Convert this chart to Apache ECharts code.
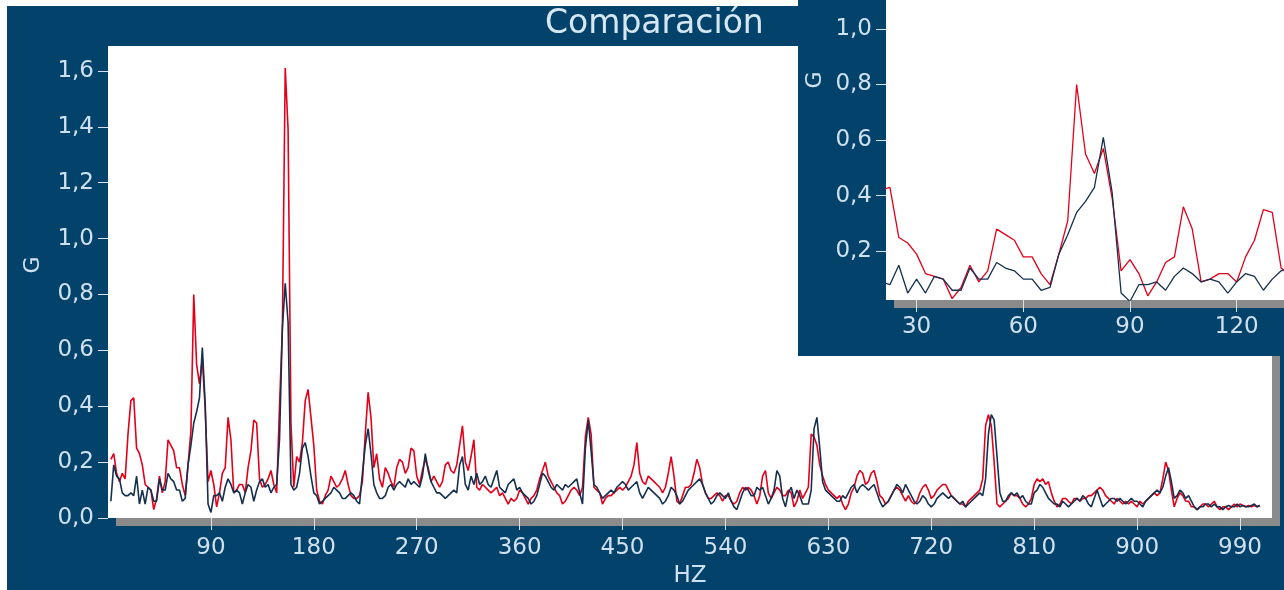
<!DOCTYPE html>
<html><head><meta charset="utf-8">
<script src="https://cdn.jsdelivr.net/npm/echarts@6/dist/echarts.min.js"></script>
<style>html,body{margin:0;padding:0;background:#fff}#c{width:1284px;height:590px}</style>
</head><body><div id="c"></div>
<script>
const chartTitle = 'Comparación';
const xAxisName = 'HZ';
const yAxisName = 'G';
const binStartHz = 2.5;
const binStepHz = 2.5;

const redValues = [
  0.21,0.23,0.16,0.13,0.16,0.14,0.30,0.42,
  0.43,0.25,0.23,0.19,0.12,0.11,0.10,0.03,
  0.07,0.15,0.09,0.13,0.28,0.26,0.24,0.18,
  0.18,0.12,0.08,0.19,0.31,0.80,0.55,0.48,
  0.57,0.39,0.13,0.17,0.12,0.04,0.09,0.16,
  0.18,0.36,0.28,0.09,0.10,0.12,0.12,0.09,
  0.18,0.24,0.35,0.34,0.14,0.11,0.12,0.14,
  0.17,0.12,0.09,0.40,0.68,1.61,1.39,0.34,
  0.11,0.22,0.20,0.27,0.42,0.46,0.36,0.26,
  0.10,0.06,0.05,0.08,0.10,0.15,0.13,0.11,
  0.12,0.14,0.17,0.12,0.08,0.07,0.07,0.08,
  0.13,0.30,0.45,0.36,0.18,0.23,0.14,0.11,
  0.18,0.16,0.13,0.11,0.18,0.21,0.20,0.16,
  0.18,0.25,0.24,0.15,0.12,0.17,0.21,0.18,
  0.13,0.15,0.13,0.11,0.13,0.19,0.20,0.17,
  0.16,0.19,0.26,0.33,0.20,0.17,0.22,0.28,
  0.11,0.10,0.12,0.11,0.10,0.09,0.10,0.11,
  0.08,0.09,0.07,0.05,0.07,0.06,0.07,0.10,
  0.09,0.07,0.05,0.07,0.08,0.10,0.14,0.17,
  0.20,0.15,0.13,0.11,0.09,0.08,0.05,0.06,
  0.08,0.10,0.11,0.10,0.08,0.11,0.29,0.36,
  0.30,0.11,0.10,0.09,0.05,0.07,0.08,0.08,
  0.09,0.10,0.11,0.10,0.11,0.13,0.15,0.19,
  0.27,0.16,0.13,0.12,0.15,0.14,0.13,0.12,
  0.11,0.09,0.11,0.16,0.22,0.15,0.06,0.05,
  0.08,0.11,0.11,0.12,0.16,0.21,0.18,0.12,
  0.09,0.07,0.07,0.08,0.09,0.08,0.06,0.08,
  0.08,0.06,0.05,0.06,0.09,0.11,0.10,0.11,
  0.10,0.08,0.05,0.08,0.15,0.17,0.09,0.07,
  0.09,0.11,0.10,0.08,0.08,0.10,0.09,0.04,
  0.06,0.10,0.07,0.09,0.11,0.30,0.29,0.26,
  0.19,0.15,0.12,0.10,0.09,0.08,0.07,0.08,
  0.05,0.03,0.05,0.09,0.11,0.15,0.17,0.16,
  0.12,0.13,0.16,0.17,0.13,0.08,0.07,0.05,
  0.06,0.08,0.10,0.11,0.10,0.08,0.06,0.08,
  0.06,0.05,0.06,0.09,0.11,0.12,0.10,0.07,
  0.08,0.10,0.11,0.12,0.12,0.10,0.08,0.07,
  0.06,0.05,0.05,0.04,0.06,0.07,0.08,0.09,
  0.10,0.14,0.33,0.37,0.33,0.20,0.05,0.04,
  0.05,0.06,0.07,0.09,0.08,0.08,0.07,0.05,
  0.04,0.05,0.07,0.12,0.14,0.13,0.14,0.12,
  0.13,0.09,0.06,0.04,0.05,0.07,0.07,0.06,
  0.05,0.07,0.07,0.06,0.07,0.07,0.08,0.08,
  0.09,0.10,0.11,0.10,0.08,0.07,0.06,0.05,
  0.07,0.06,0.05,0.06,0.05,0.06,0.05,0.04,
  0.06,0.05,0.06,0.07,0.08,0.09,0.08,0.09,
  0.14,0.20,0.17,0.10,0.04,0.07,0.09,0.08,
  0.06,0.06,0.04,0.04,0.03,0.04,0.05,0.05,
  0.04,0.05,0.06,0.04,0.03,0.04,0.04,0.03,
  0.04,0.05,0.04,0.05,0.045,0.04,0.045,0.04,
  0.045,0.04,0.045
];

const navyValues = [
  0.06,0.19,0.15,0.14,0.09,0.08,0.08,0.09,
  0.08,0.15,0.05,0.10,0.05,0.11,0.10,0.06,
  0.06,0.14,0.10,0.10,0.16,0.14,0.13,0.10,
  0.10,0.06,0.07,0.19,0.26,0.34,0.38,0.43,
  0.61,0.41,0.05,0.02,0.08,0.08,0.09,0.06,
  0.11,0.14,0.12,0.09,0.10,0.09,0.05,0.09,
  0.12,0.11,0.06,0.10,0.13,0.14,0.11,0.12,
  0.09,0.11,0.12,0.28,0.68,0.84,0.70,0.12,
  0.10,0.11,0.16,0.25,0.27,0.22,0.15,0.09,
  0.08,0.05,0.06,0.07,0.08,0.09,0.11,0.10,
  0.09,0.07,0.07,0.08,0.09,0.08,0.06,0.05,
  0.16,0.26,0.32,0.23,0.12,0.09,0.07,0.07,
  0.08,0.11,0.12,0.10,0.12,0.13,0.12,0.11,
  0.14,0.12,0.13,0.12,0.11,0.15,0.23,0.17,
  0.13,0.11,0.09,0.09,0.08,0.07,0.08,0.09,
  0.10,0.09,0.19,0.22,0.12,0.10,0.15,0.12,
  0.16,0.12,0.13,0.15,0.12,0.11,0.14,0.17,
  0.11,0.10,0.09,0.12,0.13,0.14,0.10,0.11,
  0.09,0.08,0.07,0.05,0.06,0.08,0.12,0.16,
  0.15,0.13,0.11,0.10,0.12,0.11,0.10,0.12,
  0.11,0.12,0.13,0.14,0.09,0.05,0.25,0.35,
  0.24,0.12,0.11,0.09,0.07,0.08,0.09,0.10,
  0.09,0.11,0.12,0.13,0.12,0.10,0.11,0.12,
  0.13,0.09,0.07,0.09,0.11,0.10,0.09,0.08,
  0.07,0.05,0.06,0.08,0.11,0.10,0.08,0.05,
  0.06,0.08,0.10,0.11,0.12,0.13,0.14,0.12,
  0.09,0.07,0.05,0.06,0.08,0.09,0.08,0.07,
  0.09,0.06,0.04,0.03,0.06,0.09,0.11,0.10,
  0.08,0.08,0.11,0.10,0.11,0.08,0.05,0.07,
  0.10,0.17,0.15,0.07,0.04,0.09,0.11,0.07,
  0.10,0.08,0.05,0.05,0.05,0.10,0.32,0.36,
  0.25,0.13,0.10,0.09,0.08,0.07,0.06,0.06,
  0.08,0.07,0.09,0.11,0.12,0.09,0.11,0.12,
  0.11,0.10,0.11,0.12,0.09,0.06,0.04,0.05,
  0.06,0.08,0.10,0.12,0.11,0.09,0.12,0.10,
  0.08,0.06,0.05,0.06,0.08,0.07,0.05,0.04,
  0.05,0.07,0.08,0.09,0.08,0.07,0.08,0.07,
  0.06,0.05,0.06,0.04,0.05,0.06,0.07,0.08,
  0.09,0.08,0.14,0.30,0.37,0.35,0.22,0.09,
  0.06,0.06,0.08,0.09,0.08,0.09,0.07,0.08,
  0.06,0.05,0.05,0.09,0.10,0.12,0.11,0.09,
  0.07,0.06,0.05,0.05,0.04,0.06,0.05,0.04,
  0.05,0.06,0.07,0.06,0.08,0.07,0.05,0.04,
  0.07,0.10,0.07,0.04,0.05,0.06,0.07,0.07,
  0.06,0.07,0.06,0.05,0.06,0.07,0.06,0.06,
  0.05,0.04,0.06,0.07,0.08,0.09,0.10,0.09,
  0.11,0.15,0.18,0.13,0.07,0.08,0.10,0.09,
  0.07,0.08,0.06,0.04,0.03,0.04,0.04,0.05,
  0.05,0.04,0.05,0.04,0.04,0.03,0.04,0.045,
  0.04,0.04,0.05,0.04,0.045,0.04,0.04,0.045,
  0.05,0.04,0.045
];

const mainXTicks = [90,180,270,360,450,540,630,720,810,900,990];
const mainYTicks = [0,0.2,0.4,0.6,0.8,1.0,1.2,1.4,1.6];
const insetXTicks = [30,60,90,120];
const insetYTicks = [0.2,0.4,0.6,0.8,1.0];

const binHz = redValues.map((_, i) => binStartHz + i * binStepHz);
const redPairs = binHz.map((f, i) => [f, redValues[i]]);
const navyPairs = binHz.map((f, i) => [f, navyValues[i]]);

const DARK = '#03426b';
const LABEL = '#cfe1ee';
const TICK = '#d6e3ec';
const RED = '#e2001a';
const NAVY = '#15304f';
const FONT = 'DejaVu Sans, Verdana, sans-serif';
const fmt = v => Number(v).toFixed(1).replace('.', ',');

function xAxisCfg(gridIndex, min, max, ticks, margin, extra) {
  return Object.assign({
    type: 'value', gridIndex, min, max,
    axisLine: { show: false },
    axisTick: { show: true, inside: false, length: 12, customValues: ticks, lineStyle: { color: TICK, width: 1 } },
    axisLabel: { show: true, customValues: ticks, color: LABEL, fontSize: 23, fontFamily: FONT, margin: margin, formatter: v => String(Math.round(v)) },
    splitLine: { show: false }
  }, extra || {});
}
function yAxisCfg(gridIndex, min, max, ticks, extra) {
  return Object.assign({
    type: 'value', gridIndex, min, max,
    axisLine: { show: false },
    axisTick: { show: true, length: 10, customValues: ticks, lineStyle: { color: TICK, width: 1 } },
    axisLabel: { show: true, customValues: ticks, color: LABEL, fontSize: 23, fontFamily: FONT, margin: 14, formatter: fmt },
    splitLine: { show: false }
  }, extra || {});
}

const chart = echarts.init(document.getElementById('c'), null, { renderer: 'canvas' });
chart.setOption({
  animation: false,
  backgroundColor: DARK,
  title: {
    text: chartTitle, left: 540, top: 3,
    textStyle: { color: '#d6e7f1', fontSize: 33, fontWeight: 'normal', fontFamily: FONT }
  },
  graphic: { elements: [
    { type: 'rect', silent: true, z: 100, shape: { x: 0, y: 0, width: 798, height: 6 }, style: { fill: '#ffffff' } },
    { type: 'rect', silent: true, z: 100, shape: { x: 0, y: 0, width: 7, height: 590 }, style: { fill: '#ffffff' } },
    { type: 'rect', silent: true, zlevel: 1, z: 0, shape: { x: 798, y: 0, width: 486, height: 356 }, style: { fill: DARK } }
  ] },
  grid: [
    { left: 108, top: 46, width: 1164, height: 472, show: true, backgroundColor: '#ffffff', borderWidth: 0,
      outerBoundsMode: 'none', containLabel: false,
      shadowColor: '#8b8b8b', shadowBlur: 0, shadowOffsetX: 8, shadowOffsetY: 8 },
    { left: 886, top: 0, width: 398, height: 300, show: true, backgroundColor: '#ffffff', borderWidth: 0,
      outerBoundsMode: 'none', containLabel: false,
      shadowColor: '#8b8b8b', shadowBlur: 0, shadowOffsetX: 8, shadowOffsetY: 8, zlevel: 1, z: 1 }
  ],
  xAxis: [
    xAxisCfg(0, 0, 1018, mainXTicks, 19, {
      name: xAxisName, nameLocation: 'middle', nameGap: 46,
      nameTextStyle: { color: LABEL, fontSize: 23, fontFamily: FONT }
    }),
    xAxisCfg(1, 21.4, 133.3, insetXTicks, 16, { zlevel: 1, z: 3 })
  ],
  yAxis: [
    yAxisCfg(0, 0, 1.689, mainYTicks, {
      name: yAxisName, nameLocation: 'middle', nameGap: 64, nameRotate: 90,
      nameTextStyle: { color: LABEL, fontSize: 22, fontFamily: FONT, padding: [0, 0, 0, 34] }
    }),
    yAxisCfg(1, 0.025, 1.104, insetYTicks, {
      zlevel: 1, z: 3,
      name: yAxisName, nameLocation: 'middle', nameGap: 60, nameRotate: 90,
      nameTextStyle: { color: LABEL, fontSize: 22, fontFamily: FONT, padding: [0, 0, 0, 140] }
    })
  ],
  series: [
    { type: 'line', xAxisIndex: 0, yAxisIndex: 0, data: redPairs, symbol: 'none', lineStyle: { color: RED, width: 1.6 }, z: 2 },
    { type: 'line', xAxisIndex: 0, yAxisIndex: 0, data: navyPairs, symbol: 'none', lineStyle: { color: NAVY, width: 1.6 }, z: 3 },
    { type: 'line', xAxisIndex: 1, yAxisIndex: 1, data: redPairs, symbol: 'none', clip: true, lineStyle: { color: RED, width: 1.3 }, zlevel: 1, z: 4 },
    { type: 'line', xAxisIndex: 1, yAxisIndex: 1, data: navyPairs, symbol: 'none', clip: true, lineStyle: { color: NAVY, width: 1.3 }, zlevel: 1, z: 5 }
  ]
});
</script>
</body></html>
